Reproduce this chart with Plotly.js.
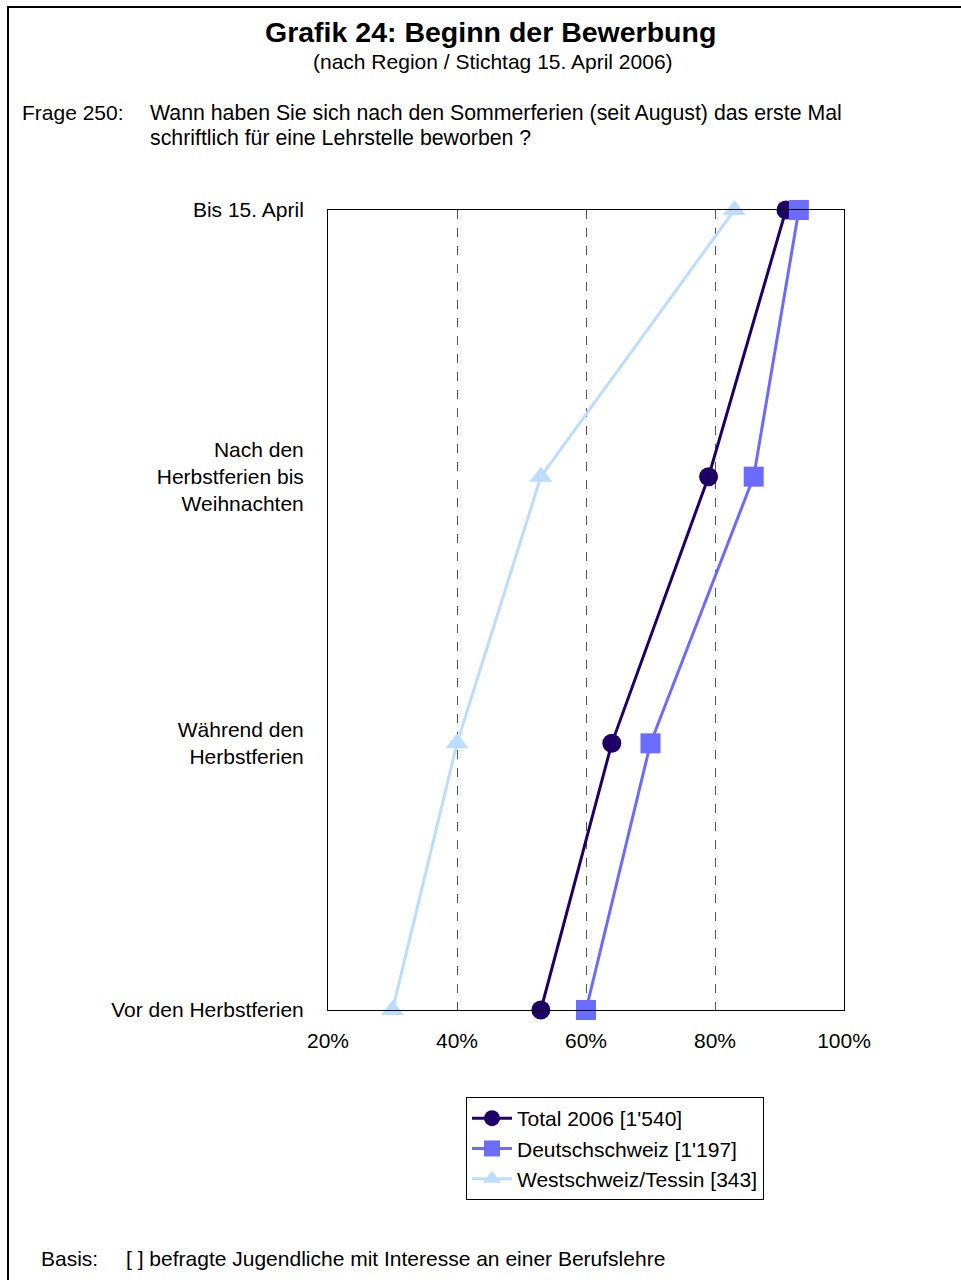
<!DOCTYPE html>
<html>
<head>
<meta charset="utf-8">
<script src="https://cdn.plot.ly/plotly-3.0.1.min.js"></script>
<style>html,body{margin:0;padding:0;background:#fff;}#chart{width:961px;height:1280px;}</style>
</head>
<body>
<div id="chart"></div>
<script>
// Categories from bottom to top
const categories = [
  "Vor den Herbstferien",
  "Während den<br>Herbstferien",
  "Nach den<br>Herbstferien bis<br>Weihnachten",
  "Bis 15. April"
];
const seriesNames = ["Total 2006 [1'540]", "Deutschschweiz [1'197]", "Westschweiz/Tessin [343]"];
const totalValues = [53, 64, 79, 91];
const deutschValues = [60, 70, 86, 93];
const westValues = [30, 40, 53, 83];
const xTickVals = [20, 40, 60, 80, 100];
const xTickText = ["20%", "40%", "60%", "80%", "100%"];

const FONT = "Liberation Sans, Arial, sans-serif";
const FS = 21;

const traces = [
  {x: totalValues, y: categories, name: seriesNames[0], legendgroup: "a", type: "scatter", mode: "lines+markers",
   line: {color: "#1F0066", width: 3}, marker: {symbol: "circle", size: 19, color: "#1F0066"}, cliponaxis: false},
  {x: deutschValues, y: categories, name: seriesNames[1], legendgroup: "b", type: "scatter", mode: "lines+markers",
   line: {color: "#6B6BFF", width: 3}, marker: {symbol: "square", size: 20, color: "#6B6BFF"}, cliponaxis: false},
  {x: westValues, y: categories, name: seriesNames[2], legendgroup: "c", type: "scatter", mode: "lines+markers",
   line: {color: "#BCDDFF", width: 3}, marker: {symbol: "triangle-up", size: 20, color: "#BCDDFF"}, cliponaxis: false}
];

const layout = {
  width: 961, height: 1280,
  margin: {l: 328, r: 117, t: 210, b: 270},
  paper_bgcolor: "#fff", plot_bgcolor: "#fff",
  font: {family: FONT, size: FS, color: "#000"},
  showlegend: true,
  legend: {
    x: (466 - 328) / 516, y: (1010 - 1097) / 800, xanchor: "left", yanchor: "top",
    bordercolor: "#000", borderwidth: 1, bgcolor: "#fff",
    font: {family: FONT, size: FS, color: "#000"},
    tracegroupgap: 0, itemwidth: 40
  },
  xaxis: {
    range: [20, 100], tickvals: xTickVals, ticktext: xTickText,
    showgrid: true, gridcolor: "#555", griddash: "dash", gridwidth: 1,
    showline: true, linecolor: "#000", linewidth: 1, mirror: true,
    zeroline: false, ticks: "", ticklabelstandoff: 12,
    tickfont: {family: FONT, size: FS, color: "#000"}
  },
  yaxis: {
    type: "category", categoryorder: "array", categoryarray: categories,
    range: [0, 3], showgrid: false, zeroline: false,
    showline: true, linecolor: "#000", linewidth: 1, mirror: true,
    ticks: "", ticklabelstandoff: 19,
    tickfont: {family: FONT, size: FS, color: "#000"}
  },
  shapes: [
    {type: "rect", xref: "paper", yref: "paper",
     x0: (8 - 328) / 516, x1: 1.4, y0: -0.5, y1: (1010 - 7) / 800,
     line: {color: "#000", width: 2}, fillcolor: "rgba(0,0,0,0)", layer: "below"}
  ],
  annotations: [
    {text: "<b>Grafik 24: Beginn der Bewerbung</b>", xref: "paper", yref: "paper",
     x: (490 - 328) / 516, y: (1010 - 32) / 800, xanchor: "center", yanchor: "middle",
     showarrow: false, font: {family: FONT, size: 28.5, color: "#000"}},
    {text: "(nach Region / Stichtag 15. April 2006)", xref: "paper", yref: "paper",
     x: (493 - 328) / 516, y: (1010 - 62) / 800, xanchor: "center", yanchor: "middle",
     showarrow: false, font: {family: FONT, size: FS, color: "#000"}},
    {text: "Frage 250:", xref: "paper", yref: "paper",
     x: (20 - 328) / 516, y: (1010 - 113) / 800, xanchor: "left", yanchor: "middle",
     showarrow: false, font: {family: FONT, size: FS, color: "#000"}},
    {text: "Wann haben Sie sich nach den Sommerferien (seit August) das erste Mal", xref: "paper", yref: "paper",
     x: (148 - 328) / 516, y: (1010 - 113) / 800, xanchor: "left", yanchor: "middle",
     showarrow: false, font: {family: FONT, size: 21.3, color: "#000"}},
    {text: "schriftlich für eine Lehrstelle beworben ?", xref: "paper", yref: "paper",
     x: (148 - 328) / 516, y: (1010 - 138) / 800, xanchor: "left", yanchor: "middle",
     showarrow: false, font: {family: FONT, size: 21.3, color: "#000"}},
    {text: "Basis:", xref: "paper", yref: "paper",
     x: (39 - 328) / 516, y: (1010 - 1258) / 800, xanchor: "left", yanchor: "middle",
     showarrow: false, font: {family: FONT, size: FS, color: "#000"}},
    {text: "[ ] befragte Jugendliche mit Interesse an einer Berufslehre", xref: "paper", yref: "paper",
     x: (124 - 328) / 516, y: (1010 - 1258) / 800, xanchor: "left", yanchor: "middle",
     showarrow: false, font: {family: FONT, size: FS, color: "#000"}}
  ]
};

Plotly.newPlot("chart", traces, layout, {displayModeBar: false, staticPlot: true});
</script>
</body>
</html>
